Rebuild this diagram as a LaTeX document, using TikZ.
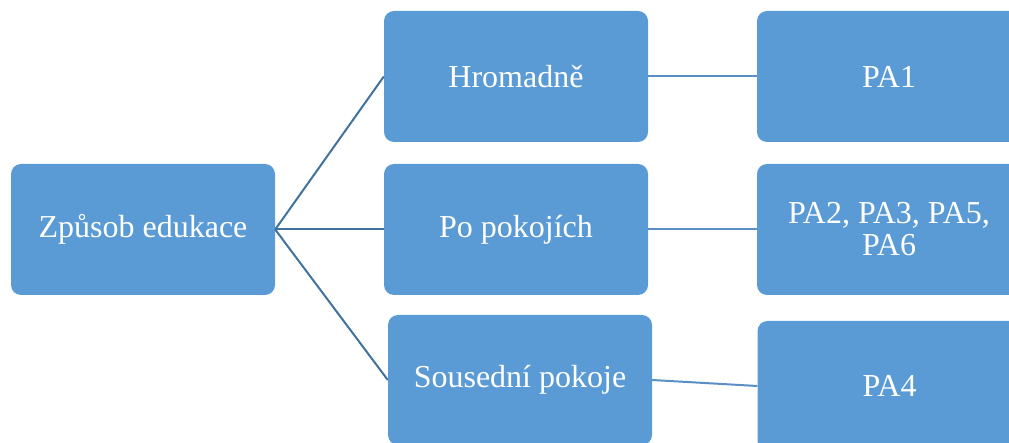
\documentclass[tikz,border=0pt]{standalone}
\usepackage{fontspec}
\setmainfont{Liberation Serif}
\definecolor{boxblue}{HTML}{5B9BD5}
\definecolor{lineA}{HTML}{41719C}
\definecolor{lineB}{HTML}{5A8FC6}
\tikzset{
  box/.style={fill=boxblue, draw=none, rounded corners=10pt, minimum width=264pt, minimum height=131pt,
    inner sep=0pt, text=white, align=center, font=\fontsize{32}{32}\selectfont},
  linkA/.style={draw=lineA, line width=2pt},
  linkB/.style={draw=lineB, line width=2pt}
}
\begin{document}
\begin{tikzpicture}[x=1pt,y=-1pt]
\useasboundingbox (0,0) rectangle (1009,443);
\clip (0,0) rectangle (1009,443);
\node[box] (root) at (143,229.5) {Způsob edukace};
\node[box] (hrom) at (516,76.5) {Hromadně};
\node[box] (popo) at (516,229.5) {Po pokojích};
\node[box, minimum height=130pt] (sous) at (520,380) {Sousední pokoje};
\node[box] (pa1) at (889,76.5) {PA1};
\node[box] (pa2) at (889,229.5) {PA2, PA3, PA5,\\PA6};
\node[box, minimum height=130pt] (pa4) at (889.5,386) {PA4};
\draw[linkA] (root.east) -- (hrom.west);
\draw[linkA] (root.east) -- (popo.west);
\draw[linkA] (root.east) -- (sous.west);
\draw[linkB] (hrom.east) -- (pa1.west);
\draw[linkB] (popo.east) -- (pa2.west);
\draw[linkB] (sous.east) -- (pa4.west);
\end{tikzpicture}
\end{document}
